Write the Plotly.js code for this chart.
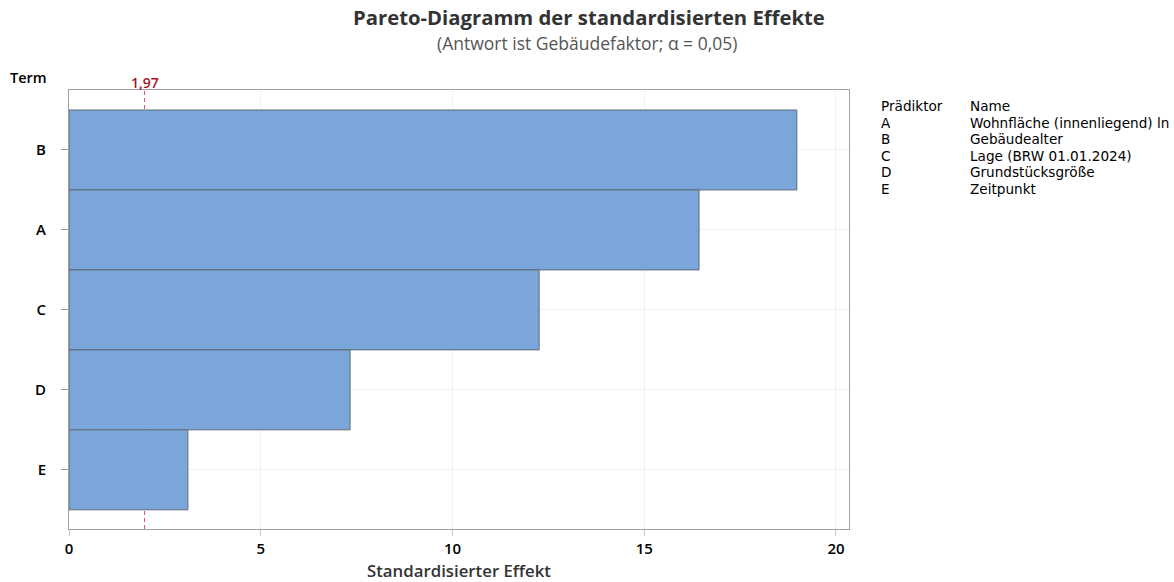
<!DOCTYPE html>
<html><head><meta charset="utf-8">
<script src="https://cdn.plot.ly/plotly-3.0.1.min.js"></script>
<style>body{margin:0;background:#fff}#chart{width:1174px;height:582px}</style>
</head><body><div id="chart"></div>
<script>
const terms = ["B", "A", "C", "D", "E"];
const effects = [18.98, 16.43, 12.26, 7.33, 3.10];
const criticalValue = 1.97;
const criticalLabel = "1,97";
const predictors = ["A", "B", "C", "D", "E"];
const predictorNames = ["Wohnfläche (innenliegend) ln", "Gebäudealter", "Lage (BRW 01.01.2024)", "Grundstücksgröße", "Zeitpunkt"];
const titleText = "Pareto-Diagramm der standardisierten Effekte";
const subtitleText = "(Antwort ist Gebäudefaktor; α = 0,05)";

const FONT = "'Open Sans', 'Noto Sans', sans-serif";
const LEGFONT = "'DejaVu Sans', sans-serif";

const trace = {
  type: "bar", orientation: "h",
  x: effects, y: terms, width: 1,
  marker: {color: "#7BA6D9", line: {color: "#5F6B78", width: 1}},
  hoverinfo: "x+y"
};

const big = s => "<span style='font-size:13.6px'>" + s + "</span>";
const col1 = ["Prädiktor"].concat(predictors).map(big).join("<br>");
const col2 = ["Name"].concat(predictorNames).map(big).join("<br>");

// paper top is 90px from page top
const annotations = [
  {xref: "paper", yref: "paper", x: 0.667, y: 1, yshift: 73, xanchor: "center", yanchor: "middle",
   text: titleText, showarrow: false, font: {family: FONT, size: 20.3, color: "#333", weight: 700}},
  {xref: "paper", yref: "paper", x: 0.664, y: 1, yshift: 47, xanchor: "center", yanchor: "middle",
   text: subtitleText, showarrow: false, font: {family: FONT, size: 17.5, color: "#555"}},
  {xref: "paper", yref: "paper", x: -0.0782, y: 1, yshift: 13, xanchor: "left", yanchor: "middle",
   text: "Term", showarrow: false, font: {family: FONT, size: 14.5, color: "#000", weight: 600}},
  {xref: "x", yref: "paper", x: criticalValue, y: 1, yshift: 8, yanchor: "middle", xanchor: "center",
   text: criticalLabel, showarrow: false, font: {family: FONT, size: 14, color: "#A0161C", weight: 600}},
  {xref: "paper", yref: "paper", x: 0.5, y: 0, yshift: -41, xanchor: "center", yanchor: "middle",
   text: "Standardisierter Effekt", showarrow: false, font: {family: FONT, size: 16.8, color: "#333", weight: 600}},
  {xref: "paper", yref: "paper", x: 1.0385, y: 1, yshift: -6, xanchor: "left", yanchor: "top", align: "left",
   text: col1, showarrow: false, font: {family: LEGFONT, size: 12.7, color: "#000"}},
  {xref: "paper", yref: "paper", x: 1.1526, y: 1, yshift: -6, xanchor: "left", yanchor: "top", align: "left",
   text: col2, showarrow: false, font: {family: LEGFONT, size: 12.7, color: "#000"}}
];

const layout = {
  width: 1174, height: 582,
  margin: {l: 69, r: 325, t: 90, b: 53},
  paper_bgcolor: "#fff", plot_bgcolor: "#fff",
  font: {family: FONT, color: "#000"},
  showlegend: false,
  bargap: 0,
  xaxis: {
    range: [0, 20.34], tickvals: [0, 5, 10, 15, 20], ticktext: ["0", "5", "10", "15", "20"],
    showgrid: true, gridcolor: "#f0f0f0", zeroline: false,
    showline: true, linecolor: "#a0a0a0", linewidth: 1, mirror: true,
    ticks: "outside", ticklen: 6, tickcolor: "#c8c8c8",
    tickfont: {family: FONT, size: 15, color: "#000", weight: 600}
  },
  yaxis: {
    categoryorder: "array", categoryarray: terms.slice().reverse(),
    range: [-0.74, 4.75],
    showgrid: true, gridcolor: "#f0f0f0", zeroline: false,
    showline: true, linecolor: "#a0a0a0", linewidth: 1, mirror: true,
    ticks: "outside", ticklen: 7, tickcolor: "#a0a0a0",
    tickfont: {family: FONT, size: 15, color: "#000", weight: 600},
    ticklabelstandoff: 12
  },
  shapes: [
    {type: "line", layer: "below", xref: "x", yref: "paper", x0: criticalValue, x1: criticalValue, y0: 0, y1: 1,
     line: {color: "#D9535A", width: 1, dash: "4px,3px"}}
  ],
  annotations: annotations
};

Plotly.newPlot("chart", [trace], layout, {displayModeBar: false, staticPlot: true});
</script>
</body></html>
